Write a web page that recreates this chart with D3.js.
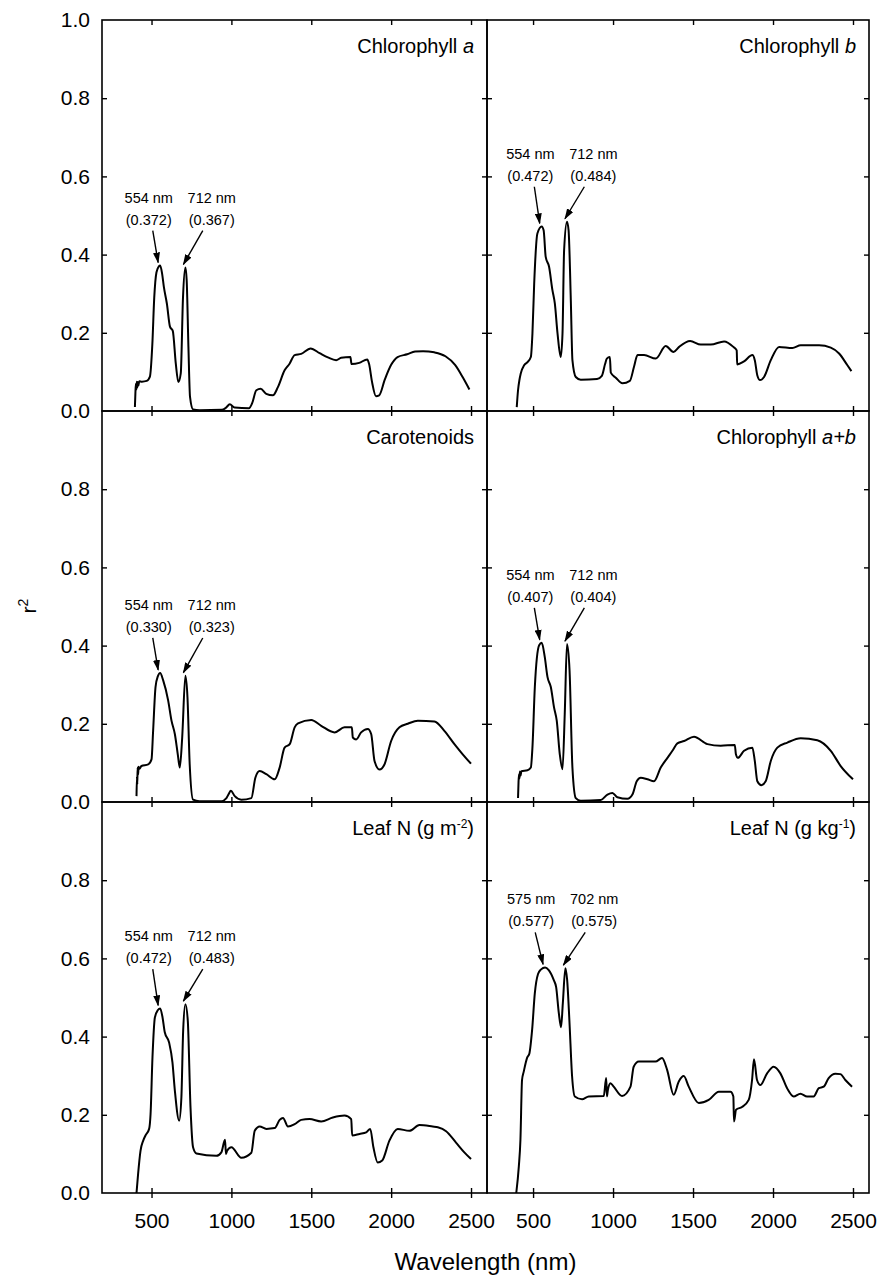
<!DOCTYPE html>
<html>
<head>
<meta charset="utf-8">
<script src="https://cdn.jsdelivr.net/npm/d3@7"></script>
<style>
body{margin:0;background:#fff;}
svg text{font-family:"Liberation Sans",Arial,Helvetica,sans-serif;fill:#000;}
</style>
</head>
<body>
<div id="chart"></div>
<script>
// ---- data : [wavelength nm, r2] ----
var xTicks = [500, 1000, 1500, 2000, 2500];
var yTicksInner = [0.2, 0.4, 0.6, 0.8];
var yLabelsTop = [0, 0.2, 0.4, 0.6, 0.8, 1.0];
var yLabelsRest = [0, 0.2, 0.4, 0.6, 0.8];

var chlA = [[396,0.010],[399,0.045],[402,0.070],[405,0.055],[408,0.075],[411,0.060],[414,0.074],[418,0.065],[423,0.076],[440,0.075],[470,0.077],[490,0.088],[505,0.170],[517,0.290],[531,0.355],[546,0.370],[554,0.372],[566,0.352],[577,0.318],[596,0.275],[616,0.215],[633,0.205],[652,0.121],[668,0.074],[683,0.096],[697,0.290],[712,0.367],[720,0.335],[731,0.164],[741,0.036],[760,0.004],[800,0.002],[940,0.003],[965,0.008],[990,0.017],[1020,0.009],[1110,0.007],[1130,0.020],[1156,0.053],[1183,0.057],[1218,0.044],[1260,0.040],[1291,0.061],[1333,0.104],[1364,0.121],[1396,0.143],[1437,0.146],[1496,0.160],[1552,0.148],[1604,0.137],[1656,0.130],[1687,0.136],[1745,0.138],[1752,0.120],[1800,0.123],[1850,0.132],[1862,0.120],[1880,0.075],[1905,0.038],[1925,0.040],[1960,0.080],[2000,0.118],[2040,0.138],[2100,0.145],[2150,0.152],[2200,0.153],[2270,0.150],[2340,0.140],[2400,0.118],[2450,0.085],[2490,0.055]];

var chlB = [[398,0.010],[406,0.053],[415,0.080],[423,0.096],[444,0.117],[465,0.125],[486,0.138],[496,0.198],[507,0.326],[527,0.454],[554,0.472],[566,0.462],[579,0.394],[600,0.369],[621,0.309],[636,0.275],[653,0.198],[673,0.138],[684,0.198],[694,0.411],[712,0.484],[722,0.462],[736,0.283],[746,0.130],[767,0.087],[798,0.080],[900,0.082],[930,0.090],[950,0.120],[961,0.134],[980,0.138],[986,0.098],[1017,0.085],[1059,0.071],[1105,0.077],[1131,0.113],[1153,0.143],[1194,0.143],[1267,0.134],[1329,0.166],[1378,0.151],[1413,0.164],[1482,0.179],[1548,0.170],[1611,0.170],[1694,0.178],[1752,0.164],[1773,0.155],[1776,0.119],[1819,0.127],[1871,0.143],[1886,0.130],[1902,0.091],[1919,0.079],[1944,0.087],[1986,0.130],[2038,0.164],[2121,0.161],[2173,0.168],[2288,0.168],[2361,0.162],[2413,0.147],[2465,0.117],[2490,0.102]];

var carot = [[406,0.015],[409,0.066],[411,0.045],[413,0.088],[416,0.070],[419,0.090],[425,0.085],[437,0.092],[479,0.096],[500,0.109],[510,0.182],[525,0.294],[540,0.322],[554,0.330],[573,0.311],[604,0.260],[625,0.208],[646,0.174],[665,0.120],[677,0.088],[692,0.165],[712,0.323],[725,0.268],[739,0.096],[760,0.006],[800,0.002],[937,0.002],[969,0.010],[985,0.022],[996,0.029],[1021,0.015],[1062,0.006],[1125,0.010],[1150,0.062],[1177,0.079],[1219,0.071],[1271,0.058],[1302,0.088],[1333,0.139],[1365,0.148],[1396,0.191],[1417,0.201],[1500,0.210],[1562,0.195],[1646,0.178],[1708,0.191],[1754,0.191],[1760,0.165],[1781,0.160],[1812,0.178],[1854,0.187],[1875,0.174],[1896,0.105],[1927,0.083],[1958,0.096],[2000,0.156],[2052,0.191],[2104,0.200],[2167,0.208],[2271,0.206],[2333,0.182],[2396,0.148],[2448,0.122],[2500,0.098]];

var chlAB = [[406,0.010],[409,0.050],[412,0.071],[415,0.060],[418,0.078],[422,0.068],[427,0.079],[465,0.081],[486,0.088],[496,0.139],[511,0.294],[538,0.401],[554,0.407],[573,0.371],[590,0.320],[611,0.294],[631,0.242],[648,0.208],[667,0.122],[684,0.084],[698,0.225],[712,0.404],[728,0.337],[746,0.088],[767,0.010],[798,0.003],[923,0.005],[965,0.019],[996,0.023],[1027,0.012],[1090,0.008],[1121,0.019],[1148,0.053],[1173,0.062],[1215,0.058],[1256,0.053],[1298,0.088],[1340,0.113],[1371,0.131],[1402,0.150],[1444,0.156],[1506,0.167],[1590,0.148],[1673,0.144],[1761,0.146],[1768,0.122],[1780,0.113],[1819,0.131],[1871,0.139],[1886,0.105],[1902,0.053],[1927,0.043],[1954,0.053],[1986,0.105],[2027,0.139],[2090,0.152],[2173,0.163],[2277,0.158],[2361,0.131],[2423,0.092],[2500,0.058]];

var leafNarea = [[406,0.000],[416,0.049],[431,0.108],[448,0.134],[462,0.147],[485,0.164],[494,0.202],[506,0.347],[521,0.449],[540,0.468],[554,0.472],[569,0.449],[583,0.411],[610,0.385],[631,0.334],[646,0.262],[673,0.185],[687,0.245],[698,0.415],[712,0.483],[727,0.441],[744,0.219],[760,0.117],[781,0.101],[906,0.095],[937,0.104],[960,0.136],[966,0.100],[973,0.108],[1000,0.117],[1062,0.090],[1125,0.103],[1146,0.159],[1177,0.170],[1219,0.164],[1271,0.166],[1302,0.187],[1323,0.192],[1354,0.170],[1396,0.176],[1437,0.187],[1489,0.189],[1562,0.183],[1635,0.193],[1708,0.198],[1750,0.189],[1756,0.147],[1802,0.151],[1844,0.155],[1869,0.164],[1889,0.117],[1916,0.078],[1944,0.083],[1989,0.134],[2041,0.164],[2114,0.159],[2177,0.174],[2260,0.170],[2292,0.168],[2344,0.158],[2406,0.129],[2458,0.104],[2500,0.087]];

var leafNmass = [[395,0.000],[411,0.068],[421,0.136],[431,0.289],[442,0.311],[462,0.345],[477,0.357],[494,0.417],[511,0.511],[531,0.560],[550,0.572],[575,0.577],[598,0.570],[629,0.545],[644,0.527],[661,0.460],[675,0.424],[686,0.485],[702,0.575],[713,0.545],[727,0.442],[744,0.298],[761,0.247],[806,0.240],[848,0.247],[942,0.248],[957,0.294],[962,0.247],[967,0.262],[984,0.281],[1004,0.272],[1056,0.248],[1109,0.272],[1129,0.323],[1161,0.336],[1265,0.336],[1306,0.345],[1338,0.315],[1379,0.251],[1411,0.285],[1442,0.299],[1473,0.272],[1536,0.230],[1598,0.238],[1661,0.259],[1734,0.259],[1752,0.247],[1756,0.183],[1769,0.213],[1806,0.220],[1848,0.238],[1869,0.289],[1881,0.342],[1900,0.289],[1921,0.276],[1963,0.306],[2004,0.323],[2046,0.306],[2088,0.268],[2129,0.247],[2171,0.254],[2213,0.247],[2254,0.247],[2286,0.268],[2317,0.272],[2348,0.294],[2390,0.305],[2421,0.304],[2452,0.289],[2494,0.272]];

var series = [chlA, chlB, carot, chlAB, leafNarea, leafNmass];

// titles : pieces of [text, style]  ("i" = italic, "sup" = superscript)
var titles = [
    [["Chlorophyll ",""],["a","i"]],
    [["Chlorophyll ",""],["b","i"]],
    [["Carotenoids",""]],
    [["Chlorophyll ",""],["a+b","i"]],
    [["Leaf N (g m",""],["-2","sup"],[")",""]],
    [["Leaf N (g kg",""],["-1","sup"],[")",""]]
];

var peakNm = [[554,712],[554,712],[554,712],[554,712],[554,712],[575,702]];
var peakR2 = [[0.372,0.367],[0.472,0.484],[0.330,0.323],[0.407,0.404],[0.472,0.483],[0.577,0.575]];

/* ######## mise en page ######## */
var W = 882, H = 1280;
var rowTop = [20, 411, 802];
var rowBot = [411, 802, 1193];

var svg = d3.select('#chart').append('svg').attr('width', W).attr('height', H);

svg.append('defs').append('marker')
    .attr('id','head')
    .attr('markerUnits','userSpaceOnUse')
    .attr('markerWidth',11).attr('markerHeight',7)
    .attr('refX',10).attr('refY',3.5)
    .attr('orient','auto')
  .append('path').attr('d','M0,0 L11,3.5 L0,7 Z').attr('fill','#000');

// une echelle x par colonne
var xCol = [
    d3.scaleLinear().domain([190, 2600]).range([102, 487]),
    d3.scaleLinear().domain([212, 2600]).range([487, 869])
];

var fmt = d3.format('.1f');
var line = d3.line().curve(d3.curveMonotoneX);

function clean(g){
    g.select('.domain').remove();
    g.selectAll('.tick line').attr('stroke','#000').attr('stroke-width',1.4);
}

series.forEach(function(data, i){
    var col = i % 2, row = Math.floor(i / 2);
    var x = xCol[col];
    var y = d3.scaleLinear().domain([0, 1]).range([rowBot[row], rowTop[row]]);
    var x0 = x.range()[0], x1 = x.range()[1];
    var top = rowTop[row], bot = rowBot[row];
    var g = svg.append('g').attr('class','panel');

    // ticks vers l'interieur sur les 4 cotes
    g.append('g').attr('transform','translate(0,'+top+')')
        .call(d3.axisBottom(x).tickValues(xTicks).tickSize(5).tickFormat('')).call(clean);
    g.append('g').attr('transform','translate(0,'+bot+')')
        .call(d3.axisTop(x).tickValues(xTicks).tickSize(5).tickFormat('')).call(clean);
    g.append('g').attr('transform','translate('+x0+',0)')
        .call(d3.axisRight(y).tickValues(yTicksInner).tickSize(5).tickFormat('')).call(clean);
    g.append('g').attr('transform','translate('+x1+',0)')
        .call(d3.axisLeft(y).tickValues(yTicksInner).tickSize(5).tickFormat('')).call(clean);

    // bas de la figure : ticks qui traversent + labels
    if(row == 2){
        var ax = g.append('g').attr('transform','translate(0,'+bot+')')
            .call(d3.axisBottom(x).tickValues(xTicks).tickSize(5).tickPadding(15).tickFormat(d3.format('d')));
        clean(ax);
        ax.selectAll('text').attr('font-size',21).attr('fill','#000');
    }
    // labels y a gauche
    if(col == 0){
        var ay = g.append('g').attr('transform','translate('+x0+',0)')
            .call(d3.axisLeft(y).tickValues(row == 0 ? yLabelsTop : yLabelsRest).tickSize(0).tickPadding(12).tickFormat(fmt));
        ay.select('.domain').remove();
        ay.selectAll('text').attr('font-size',21).attr('fill','#000');
    }

    // cadre
    g.append('rect').attr('x',x0).attr('y',top).attr('width',x1-x0).attr('height',bot-top)
        .attr('fill','none').attr('stroke','#000').attr('stroke-width',1.6);

    // courbe
    g.append('path')
        .attr('d', line(data.map(function(d){ return [x(d[0]), y(d[1])]; })))
        .attr('fill','none').attr('stroke','#000').attr('stroke-width',2)
        .attr('stroke-linejoin','round');

    // titre
    var t = g.append('text').attr('x', x1 - 13).attr('y', top + 33)
        .attr('text-anchor','end').attr('font-size',20);
    titles[i].forEach(function(p){
        var s = t.append('tspan').text(p[0]);
        if(p[1] == 'i') s.attr('font-style','italic');
        if(p[1] == 'sup') s.attr('font-size',12).attr('baseline-shift','super');
    });

    // annotations des pics
    var nm = peakNm[i], r2 = peakR2[i];
    var px = nm.map(function(v){ return x(v); });
    var mid = (px[0] + px[1]) / 2;
    var baseY = y(Math.max(r2[0], r2[1])) - 41;
    var lx = [mid - 24, mid + 39];
    [0, 1].forEach(function(k){
        var a = g.append('text').attr('text-anchor','middle').attr('font-size',14.5);
        a.append('tspan').attr('x', lx[k]).attr('y', baseY - 22).text(nm[k] + ' nm');
        a.append('tspan').attr('x', lx[k]).attr('y', baseY).text('(' + r2[k].toFixed(3) + ')');
        var tailX = k == 0 ? lx[k] + 4 : lx[k] - 9;
        g.append('line')
            .attr('x1', tailX).attr('y1', baseY + 6)
            .attr('x2', px[k] - 2).attr('y2', y(r2[k]) - 3)
            .attr('stroke','#000').attr('stroke-width',1.4)
            .attr('marker-end','url(#head)');
    });
});

// titres des axes
svg.append('text').attr('x', (xCol[0].range()[0] + xCol[1].range()[1]) / 2).attr('y', 1270)
    .attr('text-anchor','middle').attr('font-size',24).text('Wavelength (nm)');

var yl = svg.append('text').attr('transform','translate(36,606) rotate(-90)')
    .attr('text-anchor','middle').attr('font-size',21);
yl.append('tspan').text('r');
yl.append('tspan').attr('font-size',14).attr('baseline-shift','super').text('2');
</script>
</body>
</html>
